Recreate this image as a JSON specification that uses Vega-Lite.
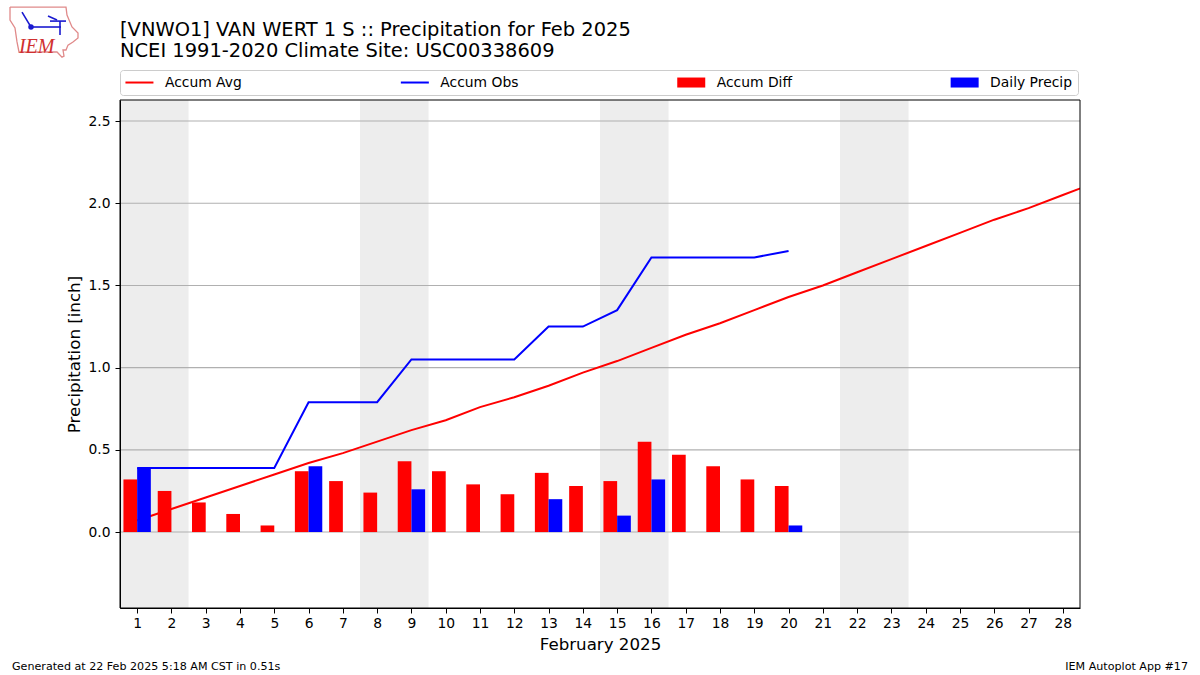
{
"$schema":"https://vega.github.io/schema/vega-lite/v6.json",
"width":960,"height":508,
"autosize":"none",
"padding":{"left":120,"top":100,"right":120,"bottom":67},
"background":"white",
"config":{"font":"DejaVu Sans","view":{"stroke":null}},
"title":{"text":["[VNWO1] VAN WERT 1 S :: Precipitation for Feb 2025","NCEI 1991-2020 Climate Site: USC00338609"],"anchor":"start","frame":"group","font":"DejaVu Sans","fontSize":19.44,"fontWeight":"normal","lineHeight":21.5,"offset":-57,"color":"black"},
"datasets":{
"bands":[{"start":0.5,"end":2.5},{"start":7.5,"end":9.5},{"start":14.5,"end":16.5},{"start":21.5,"end":23.5}],
"grid":[{"v":0},{"v":0.5},{"v":1},{"v":1.5},{"v":2},{"v":2.5}],
"days":[
{"day":1,"avg":0.07,"obs":0.39,"diff":0.32,"daily":0.39},
{"day":2,"avg":0.14,"obs":0.39,"diff":0.25,"daily":0},
{"day":3,"avg":0.21,"obs":0.39,"diff":0.18,"daily":0},
{"day":4,"avg":0.28,"obs":0.39,"diff":0.11,"daily":0},
{"day":5,"avg":0.35,"obs":0.39,"diff":0.04,"daily":0},
{"day":6,"avg":0.42,"obs":0.79,"diff":0.37,"daily":0.40},
{"day":7,"avg":0.48,"obs":0.79,"diff":0.31,"daily":0},
{"day":8,"avg":0.55,"obs":0.79,"diff":0.24,"daily":0},
{"day":9,"avg":0.62,"obs":1.05,"diff":0.43,"daily":0.26},
{"day":10,"avg":0.68,"obs":1.05,"diff":0.37,"daily":0},
{"day":11,"avg":0.76,"obs":1.05,"diff":0.29,"daily":0},
{"day":12,"avg":0.82,"obs":1.05,"diff":0.23,"daily":0},
{"day":13,"avg":0.89,"obs":1.25,"diff":0.36,"daily":0.20},
{"day":14,"avg":0.97,"obs":1.25,"diff":0.28,"daily":0},
{"day":15,"avg":1.04,"obs":1.35,"diff":0.31,"daily":0.10},
{"day":16,"avg":1.12,"obs":1.67,"diff":0.55,"daily":0.32},
{"day":17,"avg":1.20,"obs":1.67,"diff":0.47,"daily":0},
{"day":18,"avg":1.27,"obs":1.67,"diff":0.40,"daily":0},
{"day":19,"avg":1.35,"obs":1.67,"diff":0.32,"daily":0},
{"day":20,"avg":1.43,"obs":1.71,"diff":0.28,"daily":0.04},
{"day":21,"avg":1.50},
{"day":22,"avg":1.58},
{"day":23,"avg":1.66},
{"day":24,"avg":1.74},
{"day":25,"avg":1.82},
{"day":26,"avg":1.90},
{"day":27,"avg":1.97},
{"day":28,"avg":2.05},
{"day":29,"avg":2.13}
],
"outline":[
{"i":0,"lx":-2.708,"ly":3.193},{"i":1,"lx":-1.075,"ly":3.193},{"i":2,"lx":-1.046,"ly":3.145},{"i":3,"lx":-0.9,"ly":3.072},{"i":4,"lx":-0.725,"ly":3.035},{"i":5,"lx":-0.725,"ly":3.005},{"i":6,"lx":-0.871,"ly":2.981},{"i":7,"lx":-1.017,"ly":2.962},{"i":8,"lx":-1.075,"ly":2.932},{"i":9,"lx":-1.163,"ly":2.932},{"i":10,"lx":-1.133,"ly":2.895},{"i":11,"lx":-1.192,"ly":2.889},{"i":12,"lx":-1.337,"ly":2.92},{"i":13,"lx":-2.446,"ly":2.92},{"i":14,"lx":-2.504,"ly":2.981},{"i":15,"lx":-2.563,"ly":3.066},{"i":16,"lx":-2.708,"ly":3.114},{"i":17,"lx":-2.708,"ly":3.193}
],
"glyph":[
{"seg":"a","i":0,"lx":-2.096,"ly":3.072},{"seg":"a","i":1,"lx":-1.221,"ly":3.072},
{"seg":"b","i":0,"lx":-1.542,"ly":3.108},{"seg":"b","i":1,"lx":-1.075,"ly":3.108},
{"seg":"c","i":0,"lx":-1.25,"ly":3.108},{"seg":"c","i":1,"lx":-1.25,"ly":3.023},
{"seg":"d","i":0,"lx":-1.6,"ly":3.139},{"seg":"d","i":1,"lx":-1.337,"ly":3.114},
{"seg":"e","i":0,"lx":-2.358,"ly":3.163},{"seg":"e","i":1,"lx":-2.183,"ly":3.102},{"seg":"e","i":2,"lx":-2.096,"ly":3.072}
]
},
"layer":[
{"data":{"name":"bands"},"mark":{"type":"rect","fill":"#ededed"},
 "encoding":{"x":{"field":"start","type":"quantitative","scale":{"domain":[0.5,28.5],"nice":false,"zero":false,"padding":0},
   "axis":{"values":[1,2,3,4,5,6,7,8,9,10,11,12,13,14,15,16,17,18,19,20,21,22,23,24,25,26,27,28],"tickCount":28,"format":"d","title":"February 2025","titleFontSize":16.67,"titleFontWeight":"normal","titleColor":"black","titlePadding":7,"labelFontSize":13.89,"labelColor":"black","tickColor":"black","tickSize":5,"domainColor":"black","labelPadding":3,"labelFlush":false,"labelOverlap":false,"grid":false,"zindex":1}},
  "x2":{"field":"end"},
  "y":{"datum":-0.462,"type":"quantitative","scale":{"domain":[-0.462,2.628],"nice":false,"zero":false,"padding":0},
   "axis":{"values":[0,0.5,1,1.5,2,2.5],"format":".1f","title":"Precipitation [inch]","titleFontSize":16.67,"titleFontWeight":"normal","titleColor":"black","titlePadding":4,"labelFontSize":13.89,"labelColor":"black","tickColor":"black","tickSize":5,"domainColor":"black","labelPadding":5,"grid":false,"zindex":1}},
  "y2":{"datum":2.628}}},
{"data":{"name":"grid"},"mark":{"type":"rule","color":"#b0b0b0","strokeWidth":1.1},
 "encoding":{"y":{"field":"v","type":"quantitative"}}},
{"data":{"name":"days"},"mark":{"type":"line","strokeWidth":2,"clip":true},
 "encoding":{"x":{"field":"day","type":"quantitative"},"y":{"field":"avg","type":"quantitative"},
  "color":{"datum":"Accum Avg","type":"nominal","scale":{"domain":["Accum Avg","Accum Obs","Accum Diff","Daily Precip"],"range":["#ff0000","#0000ff","#ff0000","#0000ff"]},
   "legend":{"orient":"none","legendX":0,"legendY":-30,"columns":4,"columnPadding":157.4,"title":null,"padding":5.5,"fillColor":"white","strokeColor":"#cccccc","cornerRadius":3,"symbolSize":100,"labelOffset":25.5,"labelFontSize":13.89,"labelColor":"black","labelFont":"DejaVu Sans",
    "encode":{"symbols":{"update":{"shape":{"signal":"datum.value==='Accum Avg'||datum.value==='Accum Obs' ? 'M-1.4,-0.2H4.2V0.2H-1.4Z' : 'M-1.4,-1H4.2V1H-1.4Z'"},"fill":{"signal":"scale('color',datum.value)"},"stroke":{"value":"transparent"},"strokeWidth":{"value":0},"opacity":{"value":1}}}}}}}},
{"data":{"name":"days"},"mark":{"type":"bar","width":13.7,"xOffset":-6.85},
 "encoding":{"x":{"field":"day","type":"quantitative"},"y":{"field":"diff","type":"quantitative","stack":null},"color":{"datum":"Accum Diff","type":"nominal"}}},
{"data":{"name":"days"},"mark":{"type":"bar","width":13.7,"xOffset":6.85},
 "encoding":{"x":{"field":"day","type":"quantitative"},"y":{"field":"daily","type":"quantitative","stack":null},"color":{"datum":"Daily Precip","type":"nominal"}}},
{"data":{"name":"days"},"mark":{"type":"line","strokeWidth":2,"clip":true},
 "encoding":{"x":{"field":"day","type":"quantitative"},"y":{"field":"obs","type":"quantitative"},"color":{"datum":"Accum Obs","type":"nominal"}}},
{"data":{"values":[{"a":1}]},"mark":{"type":"rect","fill":null,"stroke":"black","strokeWidth":1},
 "encoding":{"x":{"datum":0.5,"type":"quantitative"},"x2":{"datum":28.5},"y":{"datum":-0.462,"type":"quantitative"},"y2":{"datum":2.628}}},
{"data":{"values":[{"t":"Generated at 22 Feb 2025 5:18 AM CST in 0.51s"}]},"mark":{"type":"text","align":"left","baseline":"middle","fontSize":11.11,"font":"DejaVu Sans","color":"black"},
 "encoding":{"x":{"datum":-2.65,"type":"quantitative"},"y":{"datum":-0.818,"type":"quantitative"},"text":{"field":"t"}}},
{"data":{"values":[{"t":"IEM Autoplot App #17"}]},"mark":{"type":"text","align":"right","baseline":"middle","fontSize":11.11,"font":"DejaVu Sans","color":"black"},
 "encoding":{"x":{"datum":31.65,"type":"quantitative"},"y":{"datum":-0.818,"type":"quantitative"},"text":{"field":"t"}}},
{"data":{"name":"outline"},"mark":{"type":"line","color":"#e08a8a","strokeWidth":1.3,"clip":false},
 "encoding":{"x":{"field":"lx","type":"quantitative"},"y":{"field":"ly","type":"quantitative"},"order":{"field":"i"}}},
{"data":{"name":"glyph"},"mark":{"type":"line","color":"#1a1ad0","strokeWidth":1.6,"clip":false},
 "encoding":{"x":{"field":"lx","type":"quantitative"},"y":{"field":"ly","type":"quantitative"},"detail":{"field":"seg"},"order":{"field":"i"}}},
{"data":{"values":[{"a":1}]},"mark":{"type":"point","filled":true,"color":"#1a1ad0","size":30,"opacity":1,"clip":false},
 "encoding":{"x":{"datum":-2.096,"type":"quantitative"},"y":{"datum":3.072,"type":"quantitative"}}},
{"data":{"values":[{"t":"IEM"}]},"mark":{"type":"text","align":"center","baseline":"middle","fontSize":20,"font":"Liberation Serif","fontStyle":"italic","color":"#d03030"},
 "encoding":{"x":{"datum":-1.93,"type":"quantitative"},"y":{"datum":2.948,"type":"quantitative"},"text":{"field":"t"}}}
]
}
